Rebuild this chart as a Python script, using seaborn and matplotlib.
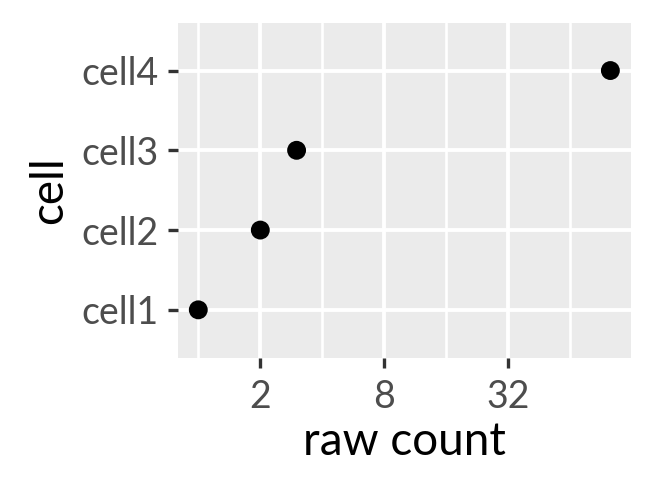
import pandas as pd
import matplotlib.pyplot as plt
import matplotlib.ticker as mticker
import seaborn as sns

cells = ['cell1', 'cell2', 'cell3', 'cell4']
raw_counts = [1, 2, 3, 100]
x_ticks = [2, 8, 32]
x_minor = [1, 4, 16, 64]

df = pd.DataFrame({'cell': cells, 'raw count': raw_counts})

sns.set_style("darkgrid")
plt.rcParams['font.family'] = ['Lato', 'DejaVu Sans']

fig = plt.figure(figsize=(6.54, 4.91), dpi=100)
ax = fig.add_axes([0.2717, 0.2715, 0.6931, 0.6823])
ax.set_facecolor('#EBEBEB')

sns.scatterplot(data=df, x='raw count', y='cell', color='black', s=185,
                edgecolor='none', ax=ax, zorder=3)

ax.set_xscale('log', base=2)
ax.set_xlim(2 ** -0.332, 2 ** 6.976)
ax.set_xticks(x_ticks)
ax.set_xticklabels([str(t) for t in x_ticks])
ax.set_xticks(x_minor, minor=True)
ax.xaxis.set_minor_formatter(mticker.NullFormatter())
ax.set_yticks(range(len(cells)))
ax.set_yticklabels(cells)
ax.set_ylim(-0.6, len(cells) - 0.4)

ax.grid(which='major', color='white', linewidth=2.8)
ax.grid(which='minor', axis='x', color='white', linewidth=1.9)
ax.set_axisbelow(True)
for s in ax.spines.values():
    s.set_visible(False)

ax.tick_params(axis='both', which='major', length=7.5, width=2.4, color='#333333',
               labelsize=27, labelcolor='#4D4D4D', left=True, bottom=True)
ax.tick_params(axis='y', which='major', pad=6)
ax.tick_params(axis='x', which='major', pad=8)
ax.tick_params(axis='x', which='minor', length=0)

ax.set_xlabel('raw count', fontsize=33, color='black', labelpad=4)
ax.set_ylabel('cell', fontsize=33, color='black', labelpad=8)

fig.savefig('out.png', dpi=100)
